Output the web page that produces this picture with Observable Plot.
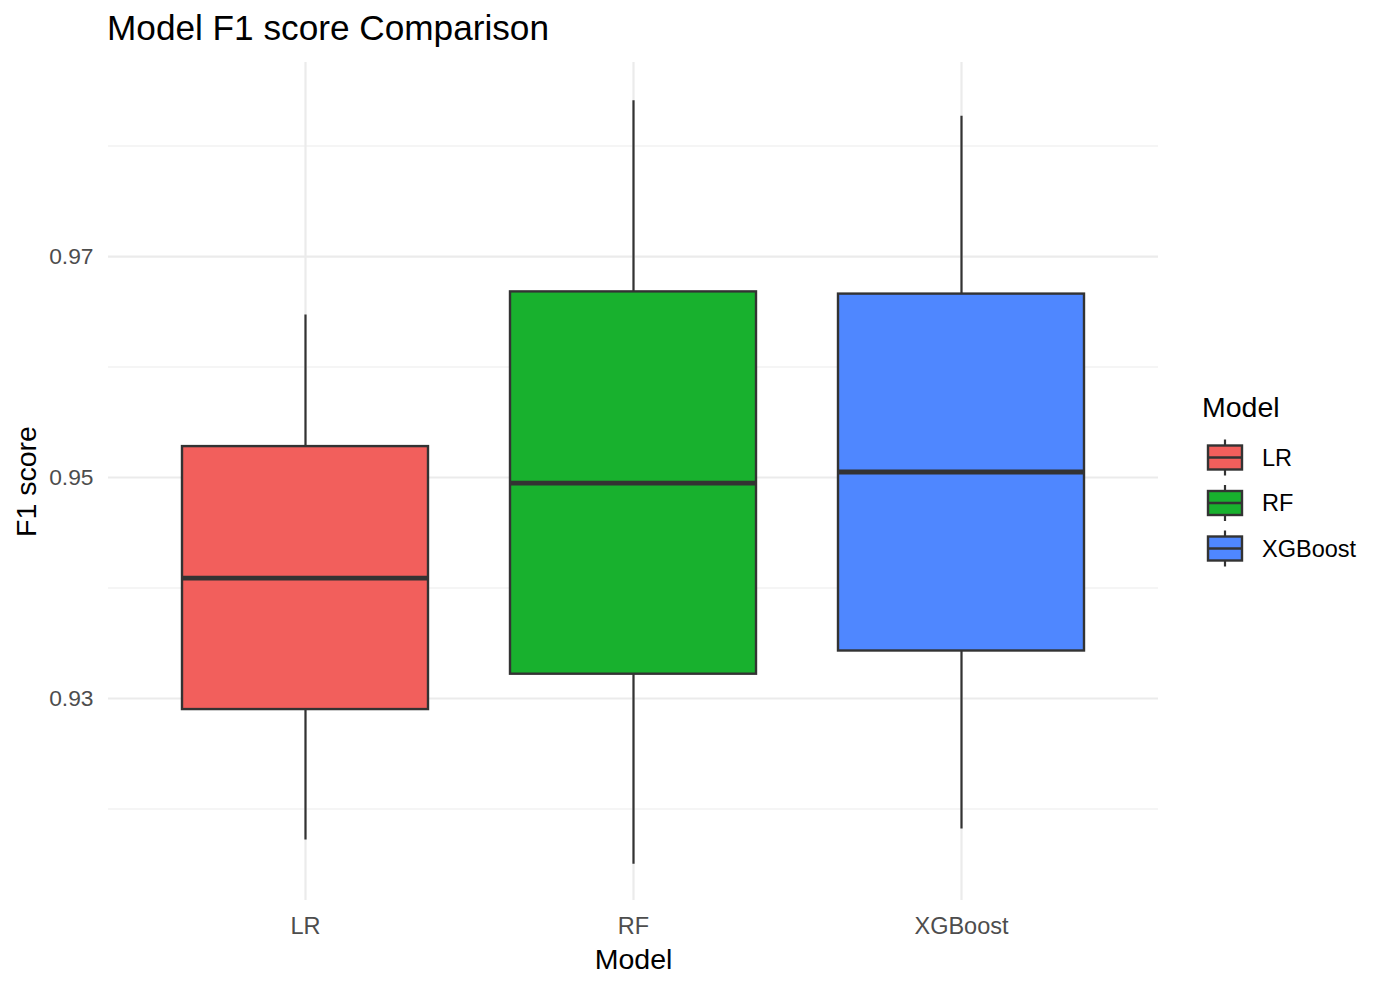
<!DOCTYPE html>
<html>
<head>
<meta charset="utf-8">
<script src="https://cdn.jsdelivr.net/npm/d3@7"></script>
<script src="https://cdn.jsdelivr.net/npm/@observablehq/plot@0.6"></script>
<style>
  html, body { margin: 0; padding: 0; background: #fff; }
  #wrap { position: relative; width: 1386px; height: 988px; font-family: "Liberation Sans", Arial, sans-serif; }
  #title { position: absolute; left: 107px; top: 10px; font-size: 35.2px; line-height: 1; color: #000; white-space: nowrap; }
  #chart { position: absolute; left: 0; top: 50px; }
  #legend { position: absolute; left: 1190px; top: 380px; }
</style>
</head>
<body>
<div id="wrap">
  <div id="title">Model F1 score Comparison</div>
  <div id="chart"></div>
  <div id="legend"></div>
</div>
<script>
// ---- data ----
const models   = ["LR", "RF", "XGBoost"];
const lower    = [0.9172, 0.9150, 0.9182];   // whisker ends (low)
const q1       = [0.9290, 0.9322, 0.9343];
const median   = [0.9409, 0.9495, 0.9505];
const q3       = [0.9528, 0.9668, 0.9666];
const upper    = [0.9647, 0.9841, 0.9827];   // whisker ends (high)
const colors   = ["#F25F5C", "#18B12E", "#4F87FF"];
const majorTicks = [0.93, 0.95, 0.97];
const minorTicks = [0.92, 0.94, 0.96, 0.98];
const yDomain  = [0.91172, 0.98756];

const stats = models.map((m, i) => ({
  model: m, lo: lower[i], q1: q1[i], med: median[i], q3: q3[i], hi: upper[i]
}));

const ink = "#333333";
const gridColor = "#EBEBEB";

const chart = Plot.plot({
  width: 1170,
  height: 938,
  marginLeft: 108,
  marginRight: 12,
  marginTop: 12,
  marginBottom: 88,
  style: { fontFamily: "'Liberation Sans', Arial, sans-serif", background: "transparent" },
  x: { domain: models, paddingInner: 0.25, paddingOuter: 0.225, label: null },
  y: { domain: yDomain, label: null },
  color: { domain: models, range: colors },
  marks: [
    Plot.gridY({ ticks: minorTicks, stroke: gridColor, strokeOpacity: 1, strokeWidth: 1.1 }),
    Plot.gridY({ ticks: majorTicks, stroke: gridColor, strokeOpacity: 1, strokeWidth: 2.2 }),
    Plot.gridX({ stroke: gridColor, strokeOpacity: 1, strokeWidth: 2.2 }),
    Plot.ruleX(stats, { x: "model", y1: "lo", y2: "hi", stroke: ink, strokeWidth: 2.2 }),
    Plot.barY(stats, { x: "model", y1: "q1", y2: "q3", fill: "model", stroke: ink, strokeWidth: 2.4 }),
    Plot.tickY(stats, { x: "model", y: "med", stroke: ink, strokeWidth: 4.8 }),
    Plot.axisY({ ticks: majorTicks, tickSize: 0, tickPadding: 15, fontSize: 22.8, fill: "#4D4D4D", label: null, tickFormat: d3.format(".2f") }),
    Plot.axisY({ ticks: [], label: "F1 score", labelAnchor: "center", labelOffset: 93, labelArrow: "none", fontSize: 28.5, fill: "#000" }),
    Plot.axisX({ tickSize: 0, tickPadding: 17, fontSize: 23.5, fill: "#4D4D4D", label: null }),
    Plot.axisX({ ticks: [], label: "Model", labelAnchor: "center", labelOffset: 68, labelArrow: "none", fontSize: 28.5, fill: "#000" })
  ]
});
document.getElementById("chart").appendChild(chart);

// ---- legend ----
const lg = d3.select("#legend").append("svg")
  .attr("width", 196).attr("height", 200)
  .style("font-family", "'Liberation Sans', Arial, sans-serif");
lg.append("text").attr("x", 12).attr("y", 37).attr("font-size", 28.5).attr("fill", "#000").text("Model");
const items = lg.selectAll("g.item").data(models).join("g")
  .attr("class", "item")
  .attr("transform", (d, i) => `translate(0, ${77.5 + i * 45.5})`);
items.append("line").attr("x1", 35).attr("x2", 35).attr("y1", -18).attr("y2", 18)
  .attr("stroke", ink).attr("stroke-width", 2.2);
items.append("rect").attr("x", 18).attr("y", -12).attr("width", 34).attr("height", 24)
  .attr("fill", (d, i) => colors[i]).attr("stroke", ink).attr("stroke-width", 2.4);
items.append("line").attr("x1", 18).attr("x2", 52).attr("y1", 0).attr("y2", 0)
  .attr("stroke", ink).attr("stroke-width", 2.6);
items.append("text").attr("x", 72).attr("y", 0).attr("dy", "0.36em")
  .attr("font-size", 23.5).attr("fill", "#000").text(d => d);
</script>
</body>
</html>
